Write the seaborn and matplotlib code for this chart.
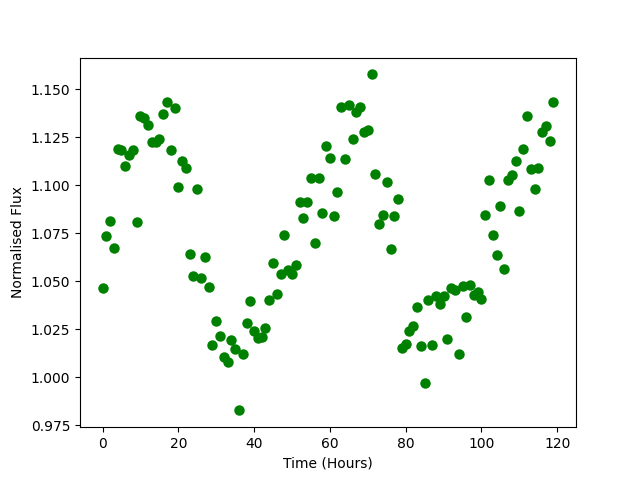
import numpy as np
import matplotlib
matplotlib.use("Agg")
import matplotlib.pyplot as plt
import seaborn as sns

# hourly samples, 0..119
time_hours = np.arange(120)

flux = [
    1.0468, 1.0734, 1.0817, 1.0676, 1.1187, 1.1184, 1.1099, 1.1159, 1.1184, 1.0807,
    1.1361, 1.1349, 1.1312, 1.1224, 1.1224, 1.1239, 1.1370, 1.1432, 1.1182, 1.1401,
    1.0994, 1.1128, 1.1093, 1.0640, 1.0530, 1.0979, 1.0520, 1.0629, 1.0473, 1.0171,
    1.0296, 1.0218, 1.0106, 1.0080, 1.0193, 1.0150, 0.9828, 1.0124, 1.0285, 1.0396,
    1.0240, 1.0205, 1.0209, 1.0259, 1.0402, 1.0595, 1.0433, 1.0537, 1.0739, 1.0558,
    1.0537, 1.0584, 1.0911, 1.0828, 1.0916, 1.1038, 1.0699, 1.1041, 1.0854, 1.1203,
    1.1140, 1.0843, 1.0963, 1.1406, 1.1135, 1.1417, 1.1239, 1.1380, 1.1408, 1.1276,
    1.1288, 1.1578, 1.1057, 1.0801, 1.0848, 1.1020, 1.0671, 1.0843, 1.0927, 1.0155,
    1.0172, 1.0242, 1.0270, 1.0365, 1.0162, 0.9973, 1.0402, 1.0171, 1.0422, 1.0384,
    1.0426, 1.0198, 1.0468, 1.0454, 1.0120, 1.0478, 1.0317, 1.0483, 1.0431, 1.0447,
    1.0410, 1.0848, 1.1027, 1.0739, 1.0635, 1.0892, 1.0567, 1.1026, 1.1052, 1.1126,
    1.0864, 1.1187, 1.1359, 1.1083, 1.0980, 1.1088, 1.1276, 1.1309, 1.1229, 1.1432,
]

fig = plt.figure(figsize=(6.4, 4.8), dpi=100)
ax = sns.scatterplot(x=time_hours, y=flux, color="green", s=36,
                     edgecolor="green", linewidth=1.5)
ax.set_xlabel("Time (Hours)")
ax.set_ylabel("Normalised Flux")
plt.savefig("out.png")
